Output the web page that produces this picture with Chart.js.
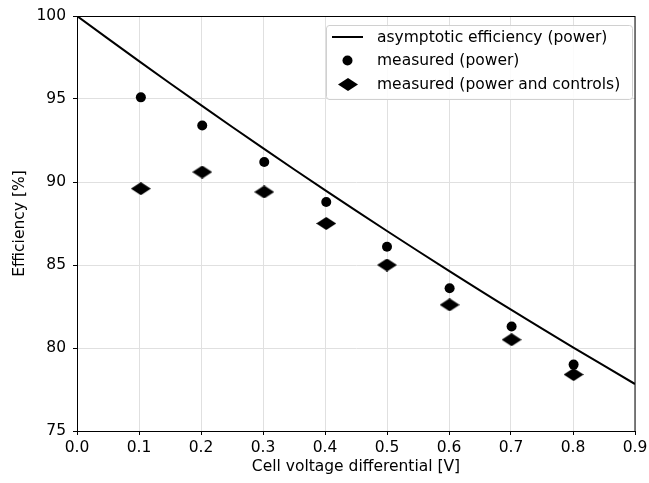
<!DOCTYPE html>
<html>
<head>
<meta charset="utf-8">
<script src="https://cdn.jsdelivr.net/npm/chart.js@4"></script>
<style>
html,body{margin:0;padding:0;background:#fff;}
#wrap{width:649px;height:483px;position:relative;}
</style>
</head>
<body>
<div id="wrap"><canvas id="c" width="649" height="483"></canvas></div>
<script>
// ---- data ----
const curveX = [0.0, 0.1, 0.2, 0.3, 0.4, 0.5, 0.6, 0.7, 0.8, 0.9];
const curveY = [100.0, 97.28, 94.63, 92.04, 89.51, 87.05, 84.65, 82.31, 80.04, 77.83];
const measX = [0.103, 0.202, 0.302, 0.402, 0.500, 0.601, 0.701, 0.801];
const measPower = [95.1, 93.4, 91.2, 88.8, 86.1, 83.6, 81.3, 79.0];
const measPowerCtrl = [89.6, 90.6, 89.4, 87.5, 85.0, 82.6, 80.5, 78.4];
const xTicks = [0.0, 0.1, 0.2, 0.3, 0.4, 0.5, 0.6, 0.7, 0.8, 0.9];
const yTicks = [75, 80, 85, 90, 95, 100];
const labels = ['asymptotic efficiency (power)', 'measured (power)', 'measured (power and controls)'];
const xTitle = 'Cell voltage differential [V]';
const yTitle = 'Efficiency [%]';

const FONT = 'DejaVu Sans';
const FS = 15.5;

// wide diamond marker
function makeDiamond(w, h) {
  const cv = document.createElement('canvas');
  cv.width = w; cv.height = h;
  const g = cv.getContext('2d');
  g.fillStyle = '#000';
  g.beginPath();
  g.moveTo(w / 2, 0); g.lineTo(w, h / 2); g.lineTo(w / 2, h); g.lineTo(0, h / 2);
  g.closePath(); g.fill();
  return cv;
}
const diamond = makeDiamond(20, 13);

const zip = (xs, ys) => xs.map((x, i) => ({x: x, y: ys[i]}));

const frame = {
  id: 'frame',
  afterDatasetsDraw(chart) {
    const {ctx, chartArea: a} = chart;
    ctx.save();
    ctx.strokeStyle = '#000';
    ctx.lineWidth = 1;
    ctx.strokeRect(Math.round(a.left) + 0.5, Math.round(a.top) + 0.5,
                   Math.round(a.right - a.left) - 1 + 0.5, Math.round(a.bottom - a.top));
    ctx.restore();
  },
  afterDraw(chart) {
    const {ctx} = chart;
    const L = 326, T = 25, R = 632, B = 99, r = 3;
    ctx.save();
    ctx.fillStyle = 'rgba(255,255,255,0.85)';
    ctx.strokeStyle = '#d0d0d0';
    ctx.lineWidth = 1;
    ctx.beginPath();
    ctx.moveTo(L + r, T + 0.5); ctx.lineTo(R - r, T + 0.5);
    ctx.arcTo(R + 0.5, T + 0.5, R + 0.5, T + r, r);
    ctx.lineTo(R + 0.5, B - r); ctx.arcTo(R + 0.5, B + 0.5, R - r, B + 0.5, r);
    ctx.lineTo(L + r, B + 0.5); ctx.arcTo(L + 0.5, B + 0.5, L + 0.5, B - r, r);
    ctx.lineTo(L + 0.5, T + r); ctx.arcTo(L + 0.5, T + 0.5, L + r, T + 0.5, r);
    ctx.closePath(); ctx.fill(); ctx.stroke();
    const ys = [37, 60.5, 84];
    const hx0 = 332, hx1 = 363, hc = (hx0 + hx1) / 2;
    ctx.strokeStyle = '#000'; ctx.lineWidth = 2;
    ctx.beginPath(); ctx.moveTo(hx0, ys[0]); ctx.lineTo(hx1, ys[0]); ctx.stroke();
    ctx.fillStyle = '#000';
    ctx.beginPath(); ctx.arc(hc, ys[1], 5, 0, Math.PI * 2); ctx.fill();
    ctx.drawImage(diamond, Math.round(hc - diamond.width / 2), Math.round(ys[2] - diamond.height / 2));
    ctx.font = FS + 'px "' + FONT + '"';
    ctx.textBaseline = 'middle';
    ctx.fillStyle = '#000';
    labels.forEach((t, i) => ctx.fillText(t, 377, ys[i] + 0.5));
    ctx.restore();
  }
};

new Chart(document.getElementById('c'), {
  type: 'scatter',
  data: {
    datasets: [
      {label: labels[0], data: zip(curveX, curveY), showLine: true, borderColor: '#000', borderWidth: 2,
       pointRadius: 0, fill: false, tension: 0.4, order: 3},
      {label: labels[1], data: zip(measX, measPower), pointStyle: 'circle', pointRadius: 5,
       backgroundColor: '#000', borderColor: '#000', borderWidth: 0, order: 2},
      {label: labels[2], data: zip(measX, measPowerCtrl), pointStyle: diamond, pointRadius: 6,
       backgroundColor: '#000', borderColor: '#000', order: 1}
    ]
  },
  options: {
    responsive: false,
    animation: false,
    devicePixelRatio: 1,
    layout: {padding: {top: 16, right: 14, left: 0, bottom: 0}},
    plugins: {legend: {display: false}, tooltip: {enabled: false}},
    scales: {
      x: {
        type: 'linear', min: 0, max: 0.9,
        afterBuildTicks: s => { s.ticks = xTicks.map(v => ({value: v})); },
        afterFit: s => { s.height = 52; s.paddingLeft = 0; s.paddingRight = 0; },
        grid: {color: '#e0e0e0', lineWidth: 1, tickColor: '#000', tickLength: 4, drawTicks: true},
        border: {display: true, color: '#000', width: 1},
        ticks: {color: '#000', font: {family: FONT, size: FS}, padding: 4, maxRotation: 0,
                callback: v => Number(v).toFixed(1)},
        title: {display: true, text: xTitle, color: '#000', font: {family: FONT, size: FS}, padding: {top: 0, bottom: 7}}
      },
      y: {
        type: 'linear', min: 75, max: 100,
        afterBuildTicks: s => { s.ticks = yTicks.map(v => ({value: v})); },
        afterFit: s => { s.width = 77; s.paddingTop = 0; s.paddingBottom = 0; },
        grid: {color: '#e0e0e0', lineWidth: 1, tickColor: '#000', tickLength: 4, drawTicks: true},
        border: {display: true, color: '#000', width: 1},
        ticks: {color: '#000', font: {family: FONT, size: FS}, padding: 7,
                callback: v => String(v)},
        title: {display: true, text: yTitle, color: '#000', font: {family: FONT, size: FS}, padding: {top: 11, bottom: 0}}
      }
    }
  },
  plugins: [frame]
});
</script>
</body>
</html>
